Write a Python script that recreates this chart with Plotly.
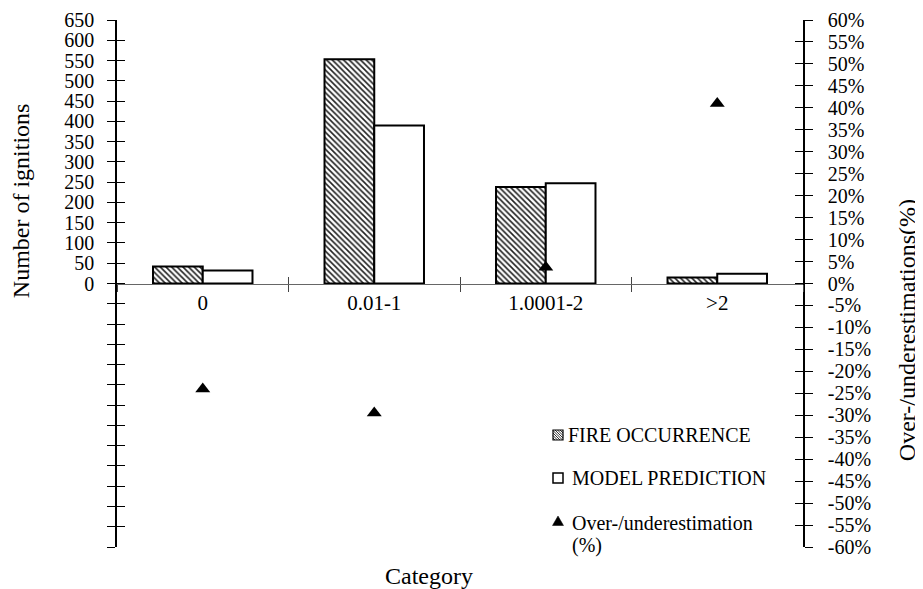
import plotly.graph_objects as go

categories = ["0", "0.01-1", "1.0001-2", ">2"]
fire_occurrence = [42, 553, 238, 15]
model_prediction = [32, 390, 247, 24]
over_under_pct = [-24, -29.5, 3.7, 41]

left_ticks = list(range(-650, 651, 50))
left_text = [str(v) if v >= 0 else "" for v in left_ticks]
right_ticks = list(range(-60, 61, 5))
right_text = [f"{v}%" for v in right_ticks]

legend_labels = ["FIRE OCCURRENCE", "MODEL PREDICTION", "Over-/underestimation", "(%)"]

FONT = "Liberation Serif"

# plot area in window pixels (used only to place the hand-drawn legend)
PX0, PW, PY1, PH = 117, 686, 547, 527


def px(X):
    return (X - PX0) / PW


def py(Y):
    return (PY1 - Y) / PH


fig = go.Figure()
fig.add_trace(go.Bar(
    x=categories, y=fire_occurrence, name="FIRE OCCURRENCE",
    marker=dict(color="white", line=dict(color="black", width=2),
                pattern=dict(shape="\\", fgcolor="#222", bgcolor="white",
                             size=4, solidity=0.4, fillmode="replace")),
))
fig.add_trace(go.Bar(
    x=categories, y=model_prediction, name="MODEL PREDICTION",
    marker=dict(color="white", line=dict(color="black", width=2)),
))
fig.add_trace(go.Scatter(
    x=categories, y=over_under_pct, yaxis="y2", mode="markers",
    name="Over-/underestimation (%)",
    marker=dict(symbol="triangle-up", size=13, color="black"),
))
# empty helper traces for crossing tick overlays
fig.add_trace(go.Scatter(x=[], y=[], yaxis="y3", showlegend=False, hoverinfo="skip"))
fig.add_trace(go.Scatter(x=[], y=[], yaxis="y4", showlegend=False, hoverinfo="skip"))
fig.add_trace(go.Scatter(x=[], y=[], xaxis="x2", yaxis="y", showlegend=False, hoverinfo="skip"))

tickfont = dict(family=FONT, size=20, color="black")

# ---- hand-drawn legend symbols ----
shapes = []
sx0, sx1 = 553, 563           # symbol box horizontal extent
r1y = 435                      # FIRE row centre
r2y = 478                      # MODEL row centre
r3y = 521                      # triangle row centre
# hatched square
hatch = []
y0, y1 = r1y - 5, r1y + 5
for c in [-8, -5.5, -3, -0.5, 2, 4.5, 7]:
    # line X - Y_rel = c  within box
    pts = []
    for t in [0, 10]:
        X = sx0 + t
        Yr = t - c
        pts.append((X, Yr))
    (xa, ya), (xb, yb) = pts
    # clip to 0..10
    if ya < 0:
        xa, ya = xa - ya, 0
    if yb > 10:
        xb, yb = xb - (yb - 10), 10
    if xb <= xa:
        continue
    hatch.append(f"M{px(xa)},{py(y0 + ya)} L{px(xb)},{py(y0 + yb)}")
shapes.append(dict(type="path", xref="paper", yref="paper", path=" ".join(hatch),
                   line=dict(color="#333", width=1)))
shapes.append(dict(type="rect", xref="paper", yref="paper",
                   x0=px(sx0), x1=px(sx1), y0=py(y1), y1=py(y0),
                   line=dict(color="black", width=1.2)))
# white square
shapes.append(dict(type="rect", xref="paper", yref="paper",
                   x0=px(sx0), x1=px(sx1), y0=py(r2y + 5), y1=py(r2y - 5),
                   fillcolor="white", line=dict(color="black", width=1.5)))
# triangle
cx = (sx0 + sx1) / 2
shapes.append(dict(type="path", xref="paper", yref="paper",
                   path=(f"M{px(cx - 5.5)},{py(r3y + 4.5)} L{px(cx + 5.5)},{py(r3y + 4.5)} "
                         f"L{px(cx)},{py(r3y - 5)} Z"),
                   fillcolor="black", line=dict(color="black", width=0.5)))

legfont = dict(family=FONT, size=20, color="black")
annotations = [
    dict(text=legend_labels[0], x=px(566), y=py(r1y)),
    dict(text=legend_labels[1], x=px(570), y=py(r2y)),
    dict(text=legend_labels[2], x=px(570), y=py(523)),
    dict(text=legend_labels[3], x=px(570), y=py(545)),
]
for a in annotations:
    a.update(xref="paper", yref="paper", xanchor="left", yanchor="middle",
             showarrow=False, font=legfont)

annotations += [
    dict(text="Number of ignitions", xref="paper", yref="paper",
         x=-0.140, y=0.658, xanchor="center", yanchor="middle",
         textangle=-90, showarrow=False, font=dict(family=FONT, size=24)),
    dict(text="Over-/underestimations(%)", xref="paper", yref="paper",
         x=1.152, y=0.412, xanchor="center", yanchor="middle",
         textangle=-90, showarrow=False, font=dict(family=FONT, size=24)),
    dict(text="Category", xref="paper", yref="paper",
         x=0.455, y=-0.055, xanchor="center", yanchor="middle",
         showarrow=False, font=dict(family=FONT, size=24)),
]

# page body has an 8px margin, so the figure is sized to fit the window
fig.update_layout(
    width=915, height=581,
    margin=dict(l=109, r=120, t=12, b=42, autoexpand=False),
    plot_bgcolor="white", paper_bgcolor="white",
    barmode="group", bargap=0.42, bargroupgap=0,
    font=dict(family=FONT, color="black"),
    showlegend=False,
    xaxis=dict(type="category", anchor="free", position=0.5,
               showline=True, linecolor="#666", linewidth=1,
               ticks="outside", tickson="boundaries", ticklen=7, tickcolor="#444",
               tickfont=dict(family=FONT, size=21, color="black"),
               showgrid=False, zeroline=False, automargin=False,
               ticklabelstandoff=0),
    xaxis2=dict(overlaying="x", anchor="free", position=0.5, range=[-0.5, 3.5],
                tickmode="array", tickvals=[0.5, 1.5, 2.5], ticks="inside",
                ticklen=7, tickcolor="#444", showticklabels=False,
                showline=False, showgrid=False, zeroline=False, automargin=False),
    yaxis=dict(range=[-650, 650], tickmode="array", tickvals=left_ticks,
               ticktext=left_text, ticks="outside", ticklen=8, tickcolor="black",
               showline=True, linecolor="black", linewidth=1.5,
               showgrid=False, zeroline=False, tickfont=tickfont,
               ticklabelstandoff=9, automargin=False),
    yaxis2=dict(overlaying="y", side="right", anchor="x", range=[-60, 60],
                tickmode="array", tickvals=right_ticks, ticktext=right_text,
                ticks="outside", ticklen=8, tickcolor="black",
                showline=True, linecolor="black", linewidth=1.5,
                showgrid=False, zeroline=False, tickfont=tickfont,
                ticklabelstandoff=11, automargin=False),
    yaxis3=dict(overlaying="y", side="left", anchor="x", range=[-650, 650],
                tickmode="array", tickvals=left_ticks, ticks="inside",
                ticklen=8, tickcolor="black", showticklabels=False,
                showline=False, showgrid=False, zeroline=False, automargin=False),
    yaxis4=dict(overlaying="y", side="right", anchor="x", range=[-60, 60],
                tickmode="array", tickvals=right_ticks, ticks="inside",
                ticklen=8, tickcolor="black", showticklabels=False,
                showline=False, showgrid=False, zeroline=False, automargin=False),
    shapes=shapes,
    annotations=annotations,
)

fig.write_html("out.html")
